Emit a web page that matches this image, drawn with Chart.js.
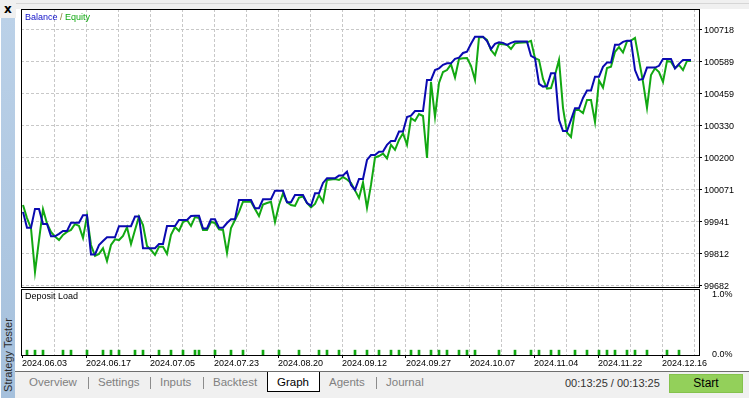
<!DOCTYPE html>
<html>
<head>
<meta charset="utf-8">
<script src="https://cdn.jsdelivr.net/npm/chart.js@4.4.1/dist/chart.umd.min.js"></script>
<style>
  body { margin: 0; width: 749px; height: 398px; overflow: hidden; background: #fff; position: relative;
         font-family: 'Liberation Sans', Arial, sans-serif; }
  .abs { position: absolute; }
  #topbar { left: 0; top: 0; width: 749px; height: 9px; background: #f0f0f0; }
  #topline { left: 16px; top: 3px; width: 733px; height: 1px; background: #d6d6d6; }
  #corner { left: 0; top: 0; width: 16px; height: 18px; background: #f0f0f0; }
  #closex { left: 4px; top: 2px; font: bold 12px 'DejaVu Sans', sans-serif; color: #000; }
  #sidebar { left: 1px; top: 18px; width: 14px; height: 380px; background: linear-gradient(#bbd1e8, #a5c0dc); }
  #sidetext { left: -37px; top: 348px; width: 90px; height: 14px; line-height: 14px; text-align: center;
              font-size: 11px; color: #2b2b2b; transform: rotate(-90deg); white-space: nowrap; }
  .frame { box-sizing: border-box; border: 1px solid #000; pointer-events: none; z-index: 5; }
  #mainWrap { left: 21px; top: 9px; width: 728px; height: 280px; }
  #loadWrap { left: 21px; top: 289px; width: 728px; height: 81px; background: #fff; }
  #legend { left: 25px; top: 12px; font-size: 9px; line-height: 11px; z-index: 6; }
  #loadTitle { left: 25px; top: 291px; font-size: 9px; line-height: 11px; color: #000; z-index: 6; }
  #tabbar { left: 15px; top: 371px; width: 734px; height: 27px; background: #f0f0f0; border-top: 1px solid #6e6e6e; box-sizing: border-box; }
  .tab { top: 375px; font-size: 11.5px; line-height: 14px; color: #808080; white-space: nowrap; }
  .sep { top: 377px; width: 1px; height: 12px; background: #8c8c8c; }
  #graphTab { left: 267px; top: 372px; width: 53px; height: 20px; box-sizing: border-box; background: #fff;
              border: 1px solid #000; border-top: none; }
  #timer { left: 565px; top: 376px; font-size: 11px; line-height: 14px; color: #333; white-space: nowrap; }
  #start { left: 669px; top: 374px; width: 74px; height: 19px; box-sizing: border-box; background: #93d05a;
           border: 1px solid #84c24c; font-size: 12px; line-height: 17px; text-align: center; color: #000; }
</style>
</head>
<body>
<div id="topbar" class="abs"></div>
<div id="topline" class="abs"></div>
<div id="corner" class="abs"></div>
<div id="closex" class="abs">x</div>
<div id="sidebar" class="abs"></div>
<div id="sidetext" class="abs">Strategy Tester</div>

<div id="mainWrap" class="abs"><canvas id="main" width="728" height="280"></canvas></div>
<div class="abs frame" style="left:21px;top:9px;width:679px;height:279px;"></div>
<div id="legend" class="abs"><span style="color:#1010c8">Balance</span><span style="color:#8a7a30"> / </span><span style="color:#10a810">Equity</span></div>

<div id="loadWrap" class="abs"><canvas id="load" width="728" height="81"></canvas></div>
<div class="abs frame" style="left:21px;top:289px;width:679px;height:67px;"></div>
<div id="loadTitle" class="abs">Deposit Load</div>

<div id="tabbar" class="abs"></div>
<div id="graphTab" class="abs"></div>
<div class="abs tab" style="left:29px">Overview</div>
<div class="abs sep" style="left:88px"></div>
<div class="abs tab" style="left:98px">Settings</div>
<div class="abs sep" style="left:150px"></div>
<div class="abs tab" style="left:160px">Inputs</div>
<div class="abs sep" style="left:203px"></div>
<div class="abs tab" style="left:213px">Backtest</div>
<div class="abs tab" style="left:277px;color:#000">Graph</div>
<div class="abs tab" style="left:329px">Agents</div>
<div class="abs sep" style="left:376px"></div>
<div class="abs tab" style="left:386px">Journal</div>
<div id="timer" class="abs">00:13:25 / 00:13:25</div>
<div id="start" class="abs">Start</div>

<script>
// one value per step along the deal axis
const balance = [
  99979, 99915, 99915, 99991, 99991, 99930, 99930, 99880, 99880, 99890,
  99902, 99902, 99935, 99935, 99935, 99965, 99965, 99807, 99807, 99845,
  99861, 99876, 99876, 99876, 99921, 99921, 99921, 99921, 99960, 99960,
  99832, 99832, 99832, 99832, 99849, 99849, 99922, 99922, 99922, 99946,
  99946, 99946, 99962, 99963, 99963, 99912, 99912, 99949, 99949, 99915,
  99915, 99934, 99949, 99949, 100027, 100027, 100027, 100027, 99994, 99994,
  100030, 100030, 100030, 100065, 100065, 100065, 100018, 100018, 100047, 100047,
  100047, 100015, 100004, 100054, 100054, 100096, 100115, 100115, 100115, 100126,
  100126, 100142, 100088, 100068, 100112, 100112, 100189, 100209, 100209, 100222,
  100223, 100250, 100266, 100266, 100304, 100304, 100363, 100368, 100387, 100387,
  100387, 100513, 100513, 100553, 100560, 100574, 100580, 100580, 100598, 100603,
  100622, 100627, 100659, 100688, 100688, 100688, 100670, 100638, 100659, 100665,
  100663, 100655, 100663, 100668, 100668, 100668, 100668, 100610, 100601, 100497,
  100486, 100488, 100540, 100540, 100351, 100306, 100306, 100351, 100398, 100398,
  100440, 100470, 100470, 100526, 100526, 100566, 100583, 100583, 100655, 100655,
  100667, 100672, 100672, 100553, 100513, 100517, 100563, 100563, 100563, 100570,
  100598, 100598, 100598, 100560, 100578, 100594, 100594, 100594,
];
const equity = [
  100007, 99954, 99913, 99736, 99865, 99990, 99932, 99898, 99879, 99865,
  99886, 99898, 99906, 99930, 99922, 99873, 99962, 99845, 99801, 99809,
  99832, 99780, 99845, 99868, 99865, 99882, 99917, 99849, 99906, 99960,
  99926, 99841, 99825, 99805, 99838, 99838, 99809, 99886, 99918, 99902,
  99938, 99946, 99922, 99958, 99954, 99906, 99906, 99938, 99934, 99908,
  99906, 99813, 99914, 99946, 99979, 100020, 100020, 100020, 99991, 99962,
  100009, 100015, 100020, 99938, 100007, 100054, 100019, 100007, 100003, 100037,
  100041, 100015, 99997, 100011, 100047, 100019, 100108, 100110, 100112, 100108,
  100120, 100110, 100096, 100066, 100035, 100098, 99995, 100088, 100199, 100205,
  100215, 100195, 100250, 100230, 100270, 100297, 100250, 100358, 100347, 100375,
  100367, 100197, 100505, 100364, 100501, 100545, 100553, 100576, 100523, 100598,
  100601, 100602, 100570, 100513, 100685, 100687, 100675, 100634, 100614, 100659,
  100657, 100655, 100638, 100661, 100663, 100664, 100665, 100671, 100601, 100594,
  100517, 100478, 100480, 100533, 100594, 100400, 100300, 100282, 100391, 100391,
  100379, 100432, 100432, 100343, 100511, 100482, 100561, 100566, 100627, 100646,
  100624, 100669, 100672, 100683, 100594, 100505, 100400, 100533, 100560, 100545,
  100505, 100590, 100586, 100560, 100574, 100553, 100590, 100590,
];
const balanceTicks = [99682, 99812, 99941, 100071, 100200, 100330, 100459, 100589, 100718];
const dateLabels = ['2024.06.03', '2024.06.17', '2024.07.05', '2024.07.23', '2024.08.20', '2024.09.12',
                    '2024.09.27', '2024.10.07', '2024.11.04', '2024.11.22', '2024.12.16'];
// deposit load (%) at the steps where a deal was opened
const loadAt = [1, 3, 5, 10, 12, 16, 20, 22, 24, 28, 30, 34, 37, 40, 43, 44, 48, 52, 55, 60, 64, 69,
                74, 76, 79, 83, 86, 89, 92, 94, 97, 99, 102, 104, 106, 109, 111, 113, 119, 123, 127,
                129, 132, 134, 138, 141, 144, 146, 148, 151, 153, 156, 161, 164];
const loadPct = loadAt.map(() => 0.08);

const gridGray = '#c8c8c8';
const steps = balance.map((_, i) => i);
const loadBars = steps.map(i => (loadAt.includes(i) ? loadPct[loadAt.indexOf(i)] : null));

// vertical grid every 8 steps, date label on every second one
const gridAt = [];
for (let k = 0; k <= 21; k++) gridAt.push(-0.25 + 8 * k);

Chart.defaults.font.family = "'Liberation Sans', Arial, sans-serif";
Chart.defaults.font.size = 9;
Chart.defaults.color = '#000';

new Chart(document.getElementById('main'), {
  type: 'line',
  data: {
    labels: steps,
    datasets: [
      { label: 'Balance', data: balance, borderColor: '#0a0ab0', borderWidth: 2, pointRadius: 0, tension: 0 },
      { label: 'Equity', data: equity, borderColor: '#12a812', borderWidth: 2, pointRadius: 0, tension: 0 },
    ],
  },
  options: {
    responsive: false, animation: false, devicePixelRatio: 1,
    layout: { padding: { top: 0, right: 0, bottom: 2, left: 0 } },
    plugins: { legend: { display: false }, tooltip: { enabled: false } },
    scales: {
      x: {
        type: 'linear', min: -0.5, max: 169,
        afterBuildTicks: (s) => { s.ticks = gridAt.map(v => ({ value: v })); },
        ticks: { display: false },
        grid: { color: (c) => (c.index === 0 ? 'rgba(0,0,0,0)' : gridGray), drawTicks: false, borderDash: [3, 2] },
        border: { display: false, dash: [3, 2] },
        afterFit: (s) => { s.height = 0; s.paddingLeft = 0; s.paddingRight = 0; },
      },
      y: {
        position: 'right', min: 99675, max: 100800,
        afterBuildTicks: (s) => { s.ticks = balanceTicks.map(v => ({ value: v })); },
        ticks: { padding: 2, labelOffset: 1, callback: (v) => String(v) },
        grid: { color: gridGray, tickColor: '#000', tickLength: 3, tickBorderDash: [], borderDash: [3, 2] },
        border: { display: false, dash: [3, 2] },
        afterFit: (s) => { s.width = 50; s.paddingTop = 0; s.paddingBottom = 0; },
      },
    },
  },
});

new Chart(document.getElementById('load'), {
  type: 'bar',
  data: {
    labels: steps,
    datasets: [{ label: 'Deposit Load', data: loadBars, backgroundColor: '#12a812', barThickness: 2 }],
  },
  options: {
    responsive: false, animation: false, devicePixelRatio: 1,
    layout: { padding: 0 },
    plugins: { legend: { display: false }, tooltip: { enabled: false } },
    scales: {
      x: {
        type: 'linear', min: -0.5, max: 169, offset: false,
        afterBuildTicks: (s) => { s.ticks = gridAt.map(v => ({ value: v })); },
        ticks: { align: 'start', padding: 0, maxRotation: 0, autoSkip: false,
                 callback: (v, k) => (k % 2 ? '' : dateLabels[k / 2]) },
        grid: {
          offset: false, tickLength: 3, tickBorderDash: [], borderDash: [3, 2],
          color: (c) => (c.index === 0 ? 'rgba(0,0,0,0)' : gridGray),
          tickColor: (c) => (c.index % 2 ? 'rgba(0,0,0,0)' : '#000'),
        },
        border: { display: false, dash: [3, 2] },
        afterFit: (s) => { s.height = 15; s.paddingLeft = 0; s.paddingRight = 0; },
      },
      y: {
        position: 'right', min: 0, max: 1.087,
        afterBuildTicks: (s) => { s.ticks = [{ value: 0 }, { value: 1 }]; },
        ticks: { padding: 5, callback: (v) => v.toFixed(1) + '%' },
        grid: { display: false },
        border: { display: false },
        afterFit: (s) => { s.width = 50; s.paddingTop = 0; s.paddingBottom = 0; },
      },
    },
  },
});
</script>
</body>
</html>
